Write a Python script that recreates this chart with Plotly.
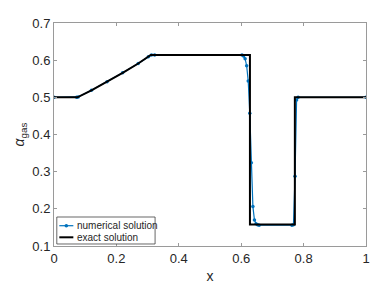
import plotly.graph_objects as go

# exact solution
x_exact = [0.0, 0.075, 0.12, 0.17, 0.22, 0.27, 0.31, 0.628, 0.628, 0.772, 0.772, 1.0]
a_exact = [0.5, 0.5, 0.519, 0.542, 0.566, 0.591, 0.614, 0.614, 0.158, 0.158, 0.5, 0.5]

# numerical solution
x_num = [0.0, 0.0725, 0.0775, 0.12, 0.17, 0.22, 0.27, 0.3025, 0.3125, 0.3225,
         0.6025, 0.6075, 0.6125, 0.6175, 0.6225, 0.6275, 0.6325, 0.6375, 0.6425,
         0.6475, 0.6525, 0.6575, 0.7625, 0.7675, 0.7725, 0.7775, 0.7825, 1.0]
a_num = [0.5, 0.5, 0.501, 0.519, 0.542, 0.566, 0.591, 0.609, 0.614, 0.614,
         0.614, 0.611, 0.604, 0.585, 0.544, 0.457, 0.324, 0.206, 0.170,
         0.160, 0.157, 0.156, 0.156, 0.157, 0.288, 0.493, 0.5, 0.5]

xticks = [0, 0.2, 0.4, 0.6, 0.8, 1]
xticklabels = ["0", "0.2", "0.4", "0.6", "0.8", "1"]
yticks = [0.1, 0.2, 0.3, 0.4, 0.5, 0.6, 0.7]
yticklabels = ["0.1", "0.2", "0.3", "0.4", "0.5", "0.6", "0.7"]
legend_names = ["numerical solution", "exact solution"]

FONT = "Liberation Sans, Arial, Helvetica, sans-serif"
AX = "#9a9a9a"
TXT = "#262626"
BLUE = "#0072BD"

fig = go.Figure()
fig.add_trace(go.Scatter(
    x=x_num, y=a_num, mode="lines+markers", name=legend_names[0],
    line=dict(color=BLUE, width=1.2),
    marker=dict(color=BLUE, size=3.5),
))
fig.add_trace(go.Scatter(
    x=x_exact, y=a_exact, mode="lines", name=legend_names[1],
    line=dict(color="black", width=2),
))

axis_common = dict(
    showgrid=False, zeroline=False, showline=True, linecolor=AX, linewidth=1,
    mirror="ticks", ticks="inside", ticklen=3, tickcolor=AX, tickwidth=1,
    tickfont=dict(family=FONT, size=13, color=TXT), automargin=False,
)
fig.update_xaxes(range=[0, 1], tickvals=xticks, ticktext=xticklabels,
                 title=dict(text="x", font=dict(family=FONT, size=14, color=TXT), standoff=6),
                 **axis_common)
fig.update_yaxes(range=[0.1, 0.7], tickvals=yticks, ticktext=yticklabels,
                 title=dict(text="<i>α</i><sub>gas</sub>", font=dict(family=FONT, size=14, color=TXT), standoff=4),
                 **axis_common)

# legend box drawn in paper coordinates (MATLAB-style compact legend)
lx0, lx1, ly0, ly1 = 0.009, 0.324, 0.009, 0.130
rows = [0.091, 0.039]
sx0, sx1, tx = 0.017, 0.062, 0.068
shapes = [dict(type="rect", xref="paper", yref="paper", x0=lx0, x1=lx1, y0=ly0, y1=ly1,
               line=dict(color="#262626", width=0.7), fillcolor="white", layer="above")]
shapes.append(dict(type="line", xref="paper", yref="paper", x0=sx0, x1=sx1, y0=rows[0], y1=rows[0],
                   line=dict(color=BLUE, width=1.2), layer="above"))
shapes.append(dict(type="circle", xref="paper", yref="paper", xsizemode="pixel", ysizemode="pixel",
                   xanchor=(sx0 + sx1) / 2, yanchor=rows[0], x0=-1.8, x1=1.8, y0=-1.8, y1=1.8,
                   fillcolor=BLUE, line=dict(color=BLUE, width=0), layer="above"))
shapes.append(dict(type="line", xref="paper", yref="paper", x0=sx0, x1=sx1, y0=rows[1], y1=rows[1],
                   line=dict(color="black", width=2), layer="above"))
annotations = [dict(text=name, xref="paper", yref="paper", x=tx, y=ry, xanchor="left", yanchor="middle",
                    showarrow=False, font=dict(family=FONT, size=10, color=TXT))
               for name, ry in zip(legend_names, rows)]

# the page body adds an 8px offset, so the figure is sized to fit the remaining window
fig.update_layout(
    width=374, height=279,
    margin=dict(l=46, r=16, t=15, b=41),
    paper_bgcolor="white", plot_bgcolor="white",
    showlegend=False,
    shapes=shapes, annotations=annotations,
)

fig.write_html("out.html")
